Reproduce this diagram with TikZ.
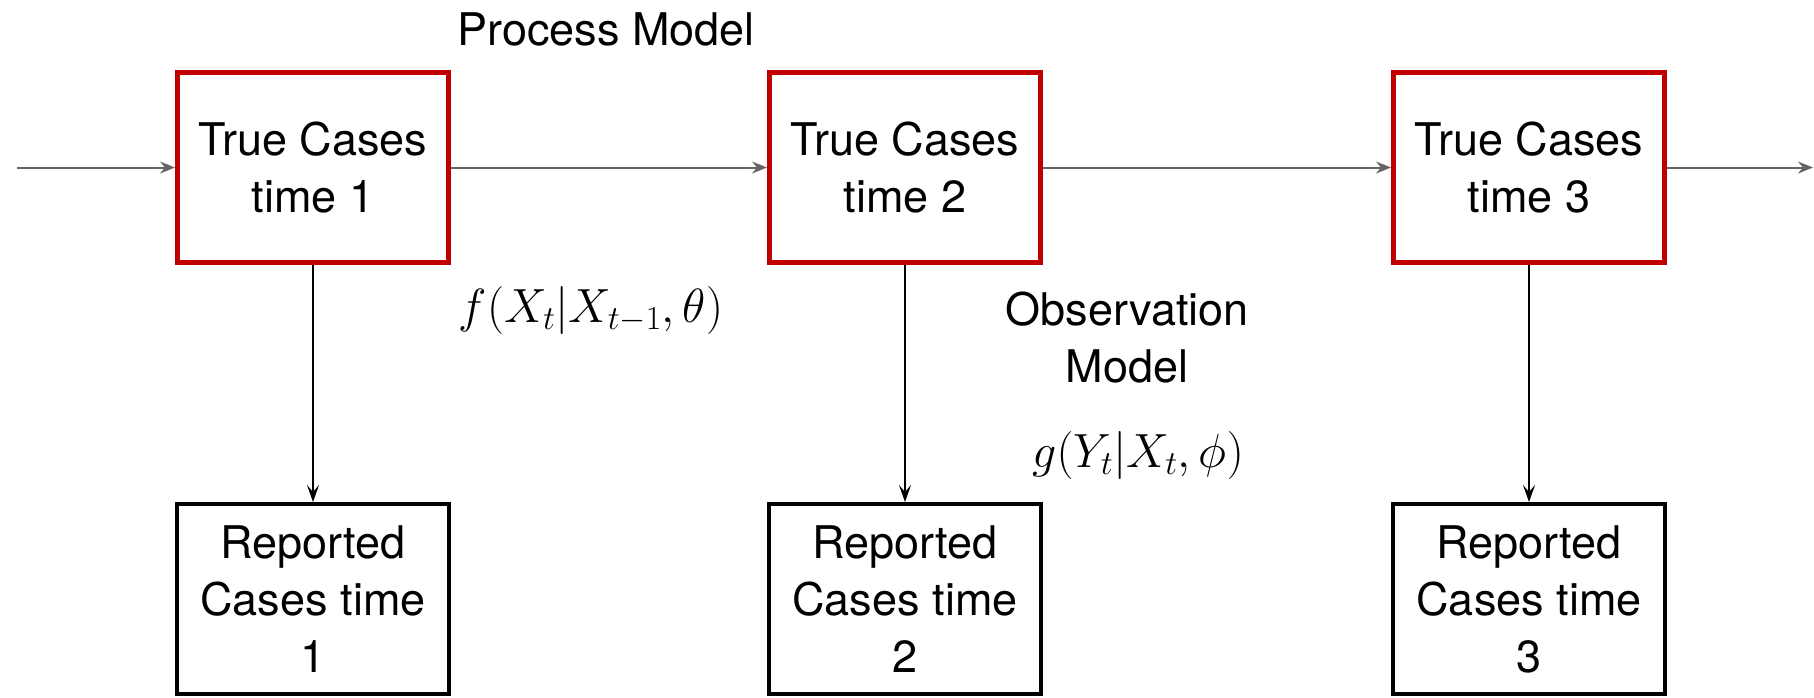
\RequirePackage{fix-cm}
\documentclass[tikz,border=0pt]{standalone}
\usepackage{fontspec}
\setmainfont{TeX Gyre Heros}
\usetikzlibrary{arrows.meta}
\definecolor{boxred}{RGB}{192,0,0}
\definecolor{arrgray}{RGB}{100,100,100}
\tikzset{
  truebox/.style={draw=boxred, line width=5pt, minimum width=271pt, minimum height=190pt,
    inner sep=0pt, align=center, font=\fontsize{45}{57}\selectfont},
  repbox/.style={draw=black, line width=4pt, minimum width=272pt, minimum height=190pt,
    inner sep=0pt, align=center, font=\fontsize{45}{57}\selectfont},
  lbl/.style={inner sep=0pt, align=center, font=\fontsize{45}{57}\selectfont},
  mlbl/.style={inner sep=0pt, font=\fontsize{48}{56}\selectfont},
  harrow/.style={draw=arrgray, line width=2pt, -{Stealth[length=15pt,width=12pt,inset=5pt]}},
  varrow/.style={draw=black, line width=2pt, -{Stealth[length=17pt,width=12pt,inset=7pt]}}
}
\begin{document}
\begin{tikzpicture}[x=1pt,y=-1pt]
\useasboundingbox (0,0) rectangle (1814,697);
\node[truebox] (t1) at (313,167.5) {True Cases\\time 1};
\node[truebox] (t2) at (905,167.5) {True Cases\\time 2};
\node[truebox] (t3) at (1529,167.5) {True Cases\\time 3};
\node[repbox] (r1) at (313,599) {Reported\\Cases time\\1};
\node[repbox] (r2) at (905,599) {Reported\\Cases time\\2};
\node[repbox] (r3) at (1529,599) {Reported\\Cases time\\3};
\coordinate (start) at (17,167.5);
\coordinate (end) at (1813,167.5);
\node[lbl, anchor=base] (pm) at (606,45) {Process Model};
\node[lbl] (om) at (1127,337.5) {Observation\\Model};
\node[mlbl, anchor=base] (fl) at (591,322) {$f(X_t|X_{t-1},\theta)$};
\node[mlbl, anchor=base] (gl) at (1138,467) {$g(Y_t|X_t,\phi)$};
\draw[harrow] (start) -- (t1.west);
\draw[harrow] (t1.east) -- (t2.west);
\draw[harrow] (t2.east) -- (t3.west);
\draw[harrow] (t3.east) -- (end);
\draw[varrow] (t1.south) -- (r1.north);
\draw[varrow] (t2.south) -- (r2.north);
\draw[varrow] (t3.south) -- (r3.north);
\end{tikzpicture}
\end{document}
